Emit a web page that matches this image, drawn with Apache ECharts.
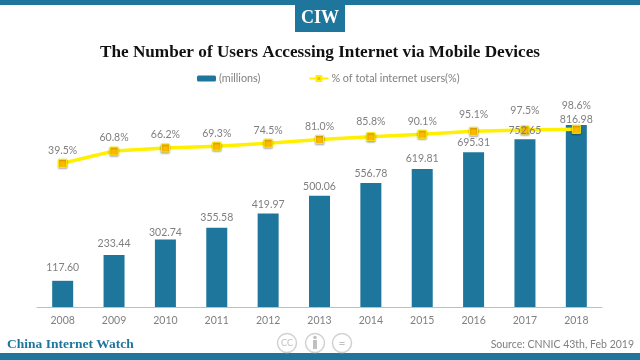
<!DOCTYPE html>
<html><head><meta charset="utf-8">
<script src="https://cdn.jsdelivr.net/npm/echarts@6/dist/echarts.min.js"></script>
<style>html,body{margin:0;padding:0;background:#fff}#c{width:640px;height:360px}</style>
</head><body><div id="c"></div>
<script>
const years = ['2008','2009','2010','2011','2012','2013','2014','2015','2016','2017','2018'];
const users = [117.60,233.44,302.74,355.58,419.97,500.06,556.78,619.81,695.31,752.65,816.98];
const share = [39.5,60.8,66.2,69.3,74.5,81.0,85.8,90.1,95.1,97.5,98.6];
const blue='#1f769c', grey='#7f7f7f', serif='"Liberation Serif",serif', sans='Lato,sans-serif';
const barGaps = [7.6,5.6,1.7,4.6,3.6,3.6,4,4.7,4.3,3.7,0];
const lineGaps = [3,3,3,3,3,3,5,3,6.5,9.5,13.5];
const chart = echarts.init(document.getElementById('c'),null,{renderer:'canvas'});
chart.setOption({
  animation:false,
  backgroundColor:'#fff',
  title:{text:'The Number of Users Accessing Internet via Mobile Devices',left:'center',top:39,
    textStyle:{fontFamily:serif,fontWeight:'bold',fontSize:17.2,color:'#111'}},
  legend:{left:197,top:73,padding:0,itemGap:48,itemWidth:19,itemHeight:6,
    textStyle:{fontFamily:sans,fontSize:10.8,color:grey},
    data:[{name:'(millions)',textStyle:{padding:[0,0,0,-2]}},{name:'% of total internet users(%)',textStyle:{padding:[0,0,0,-2]}}]},
  grid:{left:37,right:38,top:107,bottom:53},
  xAxis:{type:'category',data:years,axisTick:{show:false},
    axisLine:{lineStyle:{color:'#bfbfbf',width:1}},
    axisLabel:{fontFamily:sans,fontSize:10.5,color:grey,margin:8}},
  yAxis:[{type:'value',min:0,max:898,show:false,splitLine:{show:false}},
         {type:'value',min:-210.4,max:137.4,show:false,splitLine:{show:false}}],
  series:[
    {name:'(millions)',type:'bar',z:2,data:users,barWidth:21,barGap:'-100%',itemStyle:{color:blue}},
    {name:'% of total internet users(%)',type:'line',yAxisIndex:1,z:3,
     data:share.map((v,i)=>({value:v,label:{distance:lineGaps[i]}})),
     symbol:'rect',symbolSize:8,lineStyle:{color:'#fff000',width:3.5},
     itemStyle:{color:'#ffb900',borderColor:'#fff000',borderWidth:1,shadowBlur:2,shadowOffsetY:1,shadowColor:'rgba(0,0,0,0.35)'},
     label:{show:true,position:'top',fontFamily:sans,fontSize:10.5,color:grey,
       formatter:p=>p.value.toFixed(1)+'%'}},
    {name:'millions labels',type:'bar',z:4,silent:true,barWidth:21,barGap:'-100%',
     data:users.map((v,i)=>({value:v,label:{distance:barGaps[i]}})),
     itemStyle:{color:'rgba(0,0,0,0)'},
     label:{show:true,position:'top',fontFamily:sans,fontSize:10.5,color:grey,
       formatter:p=>p.value.toFixed(2)}}
  ],
  graphic:[
    {type:'rect',shape:{x:0,y:0,width:640,height:5},style:{fill:blue}},
    {type:'rect',shape:{x:295,y:0,width:50,height:32},style:{fill:blue}},
    {type:'text',x:320,y:18,style:{text:'CIW',fill:'#fff',font:'bold 18px '+serif,textAlign:'center',textVerticalAlign:'middle'}},
    {type:'rect',shape:{x:0,y:353,width:640,height:7},style:{fill:blue}},
    {type:'text',x:7,y:345,style:{text:'China Internet Watch',fill:blue,font:'bold 13.5px '+serif,textVerticalAlign:'middle'}},
    {type:'text',x:634,y:345,style:{text:'Source: CNNIC 43th, Feb 2019',fill:grey,font:'10.5px '+sans,textAlign:'right',textVerticalAlign:'middle'}},
    {type:'circle',shape:{cx:287,cy:343,r:9.5},style:{fill:'#fff',stroke:'#d2d2d2',lineWidth:1.5}},
    {type:'text',x:287,y:343,style:{text:'CC',fill:'#c0c0c0',font:'9px '+sans,textAlign:'center',textVerticalAlign:'middle'}},
    {type:'circle',shape:{cx:315,cy:343,r:9.5},style:{fill:'#fff',stroke:'#d2d2d2',lineWidth:1.5}},
    {type:'circle',shape:{cx:315,cy:337.5,r:1.8},style:{fill:'#c0c0c0'}},
    {type:'rect',shape:{x:313,y:340,width:4,height:9},style:{fill:'#c0c0c0'}},
    {type:'circle',shape:{cx:342,cy:343,r:9.5},style:{fill:'#fff',stroke:'#d2d2d2',lineWidth:1.5}},
    {type:'text',x:342,y:343,style:{text:'=',fill:'#c0c0c0',font:'12px '+sans,textAlign:'center',textVerticalAlign:'middle'}}
  ]
});
</script></body></html>
